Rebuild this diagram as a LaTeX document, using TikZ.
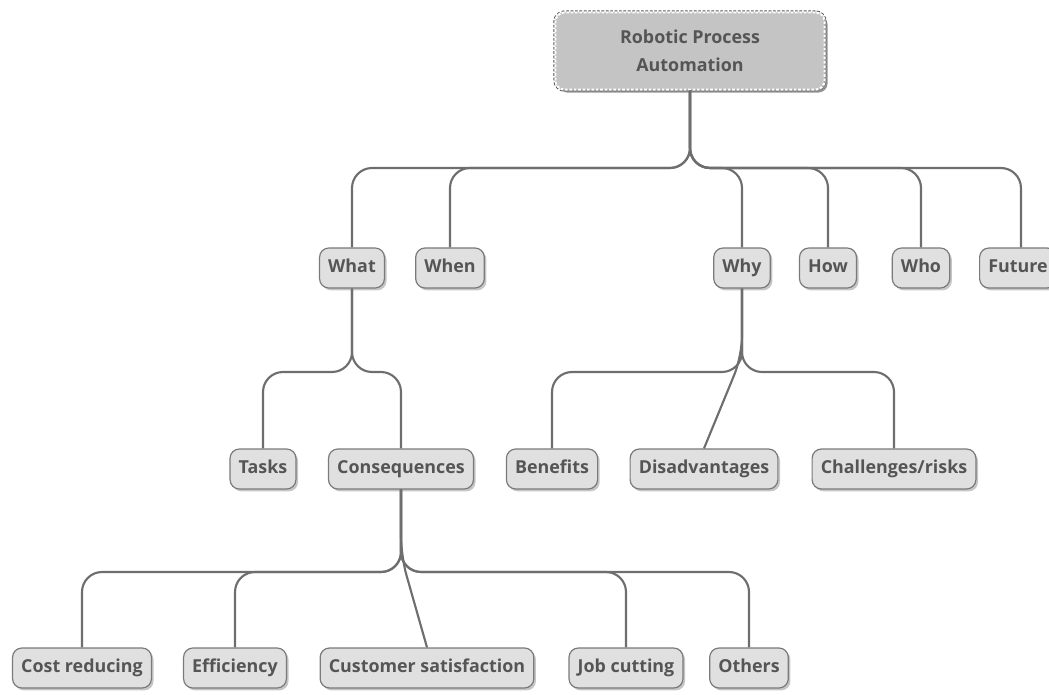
\documentclass[tikz,border=0pt]{standalone}
\usepackage{fontspec}
\setmainfont{Open Sans}
\usepackage{tikz}
\usetikzlibrary{calc}
\usetikzlibrary{shadows}
\usetikzlibrary{positioning}
\definecolor{nodefill}{HTML}{E0E0E0}
\definecolor{rootfill}{HTML}{C4C4C4}
\definecolor{nodeedge}{HTML}{7A7A7A}
\definecolor{textgray}{HTML}{555555}
\definecolor{linkgray}{HTML}{6E6E6E}

\begin{document}
\begin{tikzpicture}[
            x=0.75pt, y=-0.75pt,
            font=\bfseries\fontsize{13.4}{16}\selectfont,
            topic/.style={
                draw=nodeedge, line width=0.9pt, rounded corners=7pt,
                fill=nodefill, text=textgray,
                minimum height=30pt, inner xsep=6.5pt,
                text height=10pt, text depth=3pt,
                drop shadow={shadow xshift=1.6pt, shadow yshift=-1.8pt, opacity=0.45},
            },
            rootbox/.style={
                fill=rootfill, text=textgray, rounded corners=7pt,
                minimum width=202pt, minimum height=58pt, align=center,
                font=\bfseries\fontsize{13.4}{21}\selectfont,
                preaction={draw=nodeedge!70!black, line width=3pt},
                draw=white, line width=1.6pt, dash pattern=on 2pt off 1.3pt,
                drop shadow={shadow xshift=2.2pt, shadow yshift=-2.2pt, opacity=0.85},
            },
            link/.style={draw=linkgray, line width=1.6pt, rounded corners=15pt},
        ]
            \useasboundingbox (0,0) rectangle (1049,695);

            % --- root ---
            \node[rootbox] (rpa) at (690,51) {Robotic Process\\Automation};

            % --- first level ---
            \node[topic] (what) at (352,268) {What};
            \node[topic] (when) at (450,268) {When};
            \node[topic] (why) at (742,268) {Why};
            \node[topic] (how) at (828,268) {How};
            \node[topic] (who) at (921,268) {Who};
            \node[topic, anchor=west] (future) at (979,268) {Future};

            % --- under what / why ---
            \node[topic] (tasks) at (263,469) {Tasks};
            \node[topic] (conseq) at (401,469) {Consequences};
            \node[topic] (benefits) at (552,469) {Benefits};
            \node[topic] (disadv) at (704,469) {Disadvantages};
            \node[topic] (risks) at (894,469) {Challenges/risks};

            % --- under consequences ---
            \node[topic] (cost) at (82,668) {Cost reducing};
            \node[topic] (effic) at (235,668) {Efficiency};
            \node[topic] (custsat) at (427,668) {Customer satisfaction};
            \node[topic] (jobs) at (626,668) {Job cutting};
            \node[topic] (others) at (749,668) {Others};

            % --- bars where the branches split ---
            \coordinate (rootBar) at (690,168);
            \coordinate (whatBar) at (352,372);
            \coordinate (whyBar) at (742,372);
            \coordinate (conseqBar) at (401,572);

            % --- root branches ---
            \foreach \kid in {what,when,why,how,who}
                \draw[link] (rpa.south) |- (\kid.north |- rootBar) -- (\kid.north);
            \coordinate (futureTop) at ($(future.north)+(3,0)$);
            \draw[link] (rpa.south) |- (futureTop |- rootBar) -- (futureTop);

            % --- what / why branches ---
            \foreach \kid in {tasks,conseq}
                \draw[link] (what.south) |- (\kid.north |- whatBar) -- (\kid.north);
            \foreach \kid in {benefits,risks}
                \draw[link] (why.south) |- (\kid.north |- whyBar) -- (\kid.north);
            \coordinate (whyFork) at ($(whyBar)+(0,-16)$);
            \draw[link] (why.south) -- (whyFork) -- (disadv.north);

            % --- consequences branches ---
            \foreach \kid in {cost,effic,jobs,others}
                \draw[link] (conseq.south) |- (\kid.north |- conseqBar) -- (\kid.north);
            \coordinate (conseqFork) at ($(conseqBar)+(0,-16)$);
            \draw[link] (conseq.south) -- (conseqFork) -- (custsat.north);
        \end{tikzpicture}
\end{document}
